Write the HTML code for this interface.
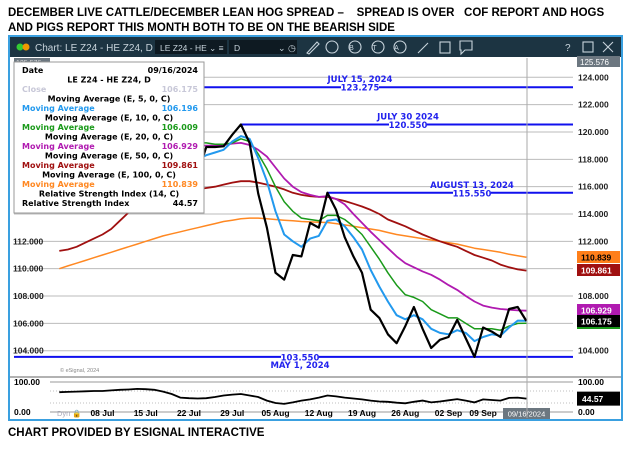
<!DOCTYPE html>
<html><head><meta charset="utf-8"><style>
body{margin:0;background:#fff;}
svg{display:block;font-family:"Liberation Sans",sans-serif;}
</style></head><body>
<svg id="c" width="633" height="450" viewBox="0 0 633 450">
<text x="8" y="16" font-size="11.5" font-weight="bold" style="white-space:pre">DECEMBER LIVE CATTLE/DECEMBER LEAN HOG SPREAD –    SPREAD IS OVER   COF REPORT AND HOGS</text>
<text x="8" y="31" font-size="11.5" font-weight="bold">AND PIGS REPORT THIS MONTH BOTH TO BE ON THE BEARISH SIDE</text>
<rect x="9" y="36" width="613" height="384" fill="#fff" stroke="#3aa0e0" stroke-width="2"/>
<rect x="10" y="37" width="611" height="20" fill="#1c3442"/>
<circle cx="20" cy="47" r="3.5" fill="#3c3"/>
<circle cx="26" cy="47" r="3.5" fill="#e90"/>
<text x="35" y="51" font-size="10" fill="#c8d4dc">Chart: LE Z24 - HE Z24, D</text>
<rect x="155" y="40" width="72" height="14" fill="#0e1a22"/>
<text x="160" y="51" font-size="8.5" fill="#c8d4dc">LE Z24 - HE ⌄ ≡</text>
<rect x="229" y="40" width="68" height="14" fill="#0e1a22"/>
<text x="234" y="51" font-size="8.5" fill="#c8d4dc">D</text>
<text x="278" y="51" font-size="9" fill="#c8d4dc">⌄ ◷</text>
<g fill="none" stroke="#c8d4dc" stroke-width="1.1">
<path d="M307 53 L317 42 L319 44 L309 54 Z"/>
<circle cx="332" cy="47" r="6"/>
<circle cx="355" cy="47" r="6"/>
<circle cx="378" cy="47" r="6"/>
<circle cx="400" cy="47" r="6"/>
<path d="M418 53 L428 43"/>
<rect x="440" y="42" width="10" height="11"/>
<path d="M460 41 H472 V50 H465 L461 54 V50 H460 Z"/>
<rect x="583" y="42" width="10" height="10"/>
<path d="M603 42 L613 52 M613 42 L603 52"/>
</g>
<text x="351.5" y="50" font-size="7" fill="#c8d4dc" text-anchor="middle">B</text>
<text x="374.5" y="50" font-size="7" fill="#c8d4dc" text-anchor="middle">T</text>
<text x="396.5" y="50" font-size="7" fill="#c8d4dc" text-anchor="middle">A</text>
<text x="565" y="51" font-size="10" fill="#c8d4dc">?</text>
<g id="grid"></g><g id="hlines"></g><g id="series"></g><g id="rsi"></g><g id="axes"></g>
<line x1="527" y1="58" x2="527" y2="418" stroke="#aaa" stroke-width="1"/>
<rect x="14" y="58" width="36" height="8" fill="#6c7780"/>
<text x="16" y="65" font-size="7" fill="#ddd">125.576</text>
<rect x="577" y="56" width="43" height="11" fill="#6c7780"/>
<text x="580" y="65" font-size="8" fill="#fff">125.576</text>
<g>
<rect x="14" y="62" width="190" height="151" fill="#fff" stroke="#999" stroke-width="1"/>
<g font-size="8" font-weight="bold" font-family="'DejaVu Sans',sans-serif">
<text x="22" y="73">Date</text><text x="198" y="73" text-anchor="end">09/16/2024</text>
<text x="109" y="82.5" text-anchor="middle">LE Z24 - HE Z24, D</text>
<text x="22" y="92" fill="#c8c8d8">Close</text><text x="198" y="92" text-anchor="end" fill="#c8c8d8">106.175</text>
<text x="109" y="101.5" text-anchor="middle">Moving Average (E, 5, 0, C)</text>
<text x="22" y="111" fill="#2299ee">Moving Average</text><text x="198" y="111" text-anchor="end" fill="#2299ee">106.196</text>
<text x="109" y="120.5" text-anchor="middle">Moving Average (E, 10, 0, C)</text>
<text x="22" y="130" fill="#1a9a1a">Moving Average</text><text x="198" y="130" text-anchor="end" fill="#1a9a1a">106.009</text>
<text x="109" y="139.5" text-anchor="middle">Moving Average (E, 20, 0, C)</text>
<text x="22" y="149" fill="#b01ab0">Moving Average</text><text x="198" y="149" text-anchor="end" fill="#b01ab0">106.929</text>
<text x="109" y="158.5" text-anchor="middle">Moving Average (E, 50, 0, C)</text>
<text x="22" y="168" fill="#a01010">Moving Average</text><text x="198" y="168" text-anchor="end" fill="#a01010">109.861</text>
<text x="109" y="177.5" text-anchor="middle">Moving Average (E, 100, 0, C)</text>
<text x="22" y="187" fill="#ff8822">Moving Average</text><text x="198" y="187" text-anchor="end" fill="#ff8822">110.839</text>
<text x="109" y="196.5" text-anchor="middle">Relative Strength Index (14, C)</text>
<text x="22" y="206">Relative Strength Index</text><text x="198" y="206" text-anchor="end">44.57</text>
</g></g>
<text x="60" y="372" font-size="5.5" fill="#888">© eSignal, 2024</text>
<text x="8" y="436" font-size="11.5" font-weight="bold">CHART PROVIDED BY ESIGNAL INTERACTIVE</text>
</svg>
<script>
const startIdx = 5;
const closeVals = [117.5,118.2,117.8,118.6,119.0,118.4,118.9,119.3,118.7,119.1,119.5,118.8,118.2,118.6,117.6,117.2,117.0,118.9,118.9,118.95,119.8,120.55,119.2,115.5,113.0,109.7,109.2,111.0,110.9,113.35,113.0,115.55,114.3,112.3,110.9,109.7,107.0,106.4,105.2,104.55,105.8,107.2,105.6,104.2,104.8,105.0,106.25,104.9,103.55,105.7,105.4,105.0,107.05,107.2,106.175];
const ema5Vals = [118.3,118.3,118.1,118.3,118.6,118.5,118.7,119.0,118.9,119.0,119.2,119.0,118.7,118.7,118.2,117.9,118.0,118.3,118.5,118.7,119.3,119.7,119.5,118.1,116.4,114.2,112.5,112.0,111.6,112.2,112.4,113.5,113.6,113.1,112.3,111.4,109.9,108.7,107.6,106.6,106.3,106.6,106.3,105.6,105.3,105.2,105.5,105.3,104.7,105.0,105.2,105.1,105.7,106.2,106.196];
const ema10Vals = [118.6,118.6,118.5,118.6,118.7,118.7,118.8,118.9,118.9,119.0,119.1,119.1,119.0,119.0,118.9,118.8,119.2,119.2,119.1,119.1,119.2,119.5,119.3,118.4,117.3,116.0,114.9,114.2,113.7,113.6,113.5,113.9,113.9,113.6,113.1,112.5,111.6,110.7,109.7,108.8,108.1,107.9,107.6,107.0,106.7,106.4,106.4,106.0,105.6,105.6,105.6,105.5,105.8,106.0,106.009];
const ema20Vals = [118.0,118.1,118.2,118.3,118.4,118.5,118.6,118.7,118.8,118.9,118.9,119.0,119.0,119.0,119.0,119.0,119.0,119.0,119.0,119.05,119.15,119.2,119.05,118.7,118.2,117.4,116.6,116.0,115.6,115.4,115.25,115.3,115.1,114.7,114.0,113.35,112.7,112.1,111.5,110.9,110.4,110.1,109.8,109.55,109.2,108.8,108.45,108.0,107.6,107.3,107.15,107.05,107.0,106.95,106.929];
const ema50Vals = [111.3,111.4,111.6,111.9,112.2,112.5,112.9,113.5,114.1,114.4,114.7,114.9,115.1,115.3,115.4,115.6,115.8,115.9,116.0,116.15,116.3,116.4,116.4,116.3,116.15,116.0,115.8,115.55,115.4,115.3,115.25,115.25,115.1,114.95,114.75,114.55,114.3,114.0,113.6,113.35,113.1,112.8,112.5,112.25,112.0,111.8,111.6,111.3,111.0,110.8,110.6,110.3,110.1,109.95,109.861];
const ema100Vals = [110.0,110.2,110.4,110.6,110.8,111.0,111.2,111.4,111.6,111.8,112.0,112.2,112.4,112.55,112.7,112.85,113.0,113.15,113.3,113.45,113.55,113.65,113.7,113.7,113.65,113.6,113.55,113.5,113.45,113.42,113.4,113.38,113.3,113.2,113.1,113.0,112.9,112.8,112.65,112.5,112.4,112.3,112.2,112.1,112.0,111.9,111.8,111.65,111.5,111.4,111.3,111.2,111.05,110.95,110.839];
const rsiVals = [66,67,68,69,70,70,72,74,75,77,76,74,68,60,48,46,45,46,50,55,58,60,55,50,38,30,27,32,38,42,48,55,52,48,45,42,38,35,34,31,29,34,38,32,35,39,43,38,32,42,40,38,47,48,44.57];
const priceTicks = [104,106,108,110,112,114,116,118,120,122,124];
const priceTickLabels = ["104.000","106.000","108.000","110.000","112.000","114.000","116.000","118.000","120.000","122.000","124.000"];
const dateLabels = ["08 Jul","15 Jul","22 Jul","29 Jul","05 Aug","12 Aug","19 Aug","26 Aug","02 Sep","09 Sep"];
const dateIdx = [10,15,20,25,30,35,40,45,50,54];
const levelVals = [123.275,120.55,115.55,103.55];
const levelStart = [0,26,36,0];
const levelTitles = ["JULY 15, 2024","JULY 30  2024","AUGUST 13, 2024","MAY 1, 2024"];
const levelLabels = ["123.275","120.550","115.550","103.550"];

const NS="http://www.w3.org/2000/svg";
const x = i => 16 + i*8.65;
const y = v => 77.3 + (124 - v)*13.67;
const ry = v => 382 + (100 - v)*0.3;
const PL=14, PR=573;
function mk(tag, attrs, parent, text){const e=document.createElementNS(NS,tag);for(const k in attrs)e.setAttribute(k,attrs[k]);if(text!==undefined)e.textContent=text;document.getElementById(parent).appendChild(e);return e;}

priceTicks.forEach((v,k)=>{
  const g=mk('line',{x1:PL,x2:PR,y1:y(v),y2:y(v),stroke:'#bbb','stroke-width':1},'grid');
  
  
  const t=mk('text',{x:578,y:y(v)+3,'font-size':8.5,'font-weight':'bold',fill:'#222'},'axes',priceTickLabels[k]);
  
  
  if(v<=112){const t2=mk('text',{x:13,y:y(v)+3,'font-size':8.5,'font-weight':'bold',fill:'#222'},'axes',priceTickLabels[k]);
  
  }
});
levelVals.forEach((v,k)=>{
  const l=mk('line',{x1:(levelStart[k]===0?PL:x(levelStart[k])),x2:PR,y1:y(v),y2:y(v),stroke:'#1010ee','stroke-width':2},'hlines');
  
  
});
const lblX=[360,408,472,300];
levelVals.forEach((v,k)=>{
  const below = k===3;
  const tt=mk('text',{x:lblX[k],y:below?y(v)+11:y(v)-5,'font-size':8.5,'font-weight':'bold',fill:'#2222ee','text-anchor':'middle','font-family':"'DejaVu Sans',sans-serif"},'hlines',levelTitles[k]);
  
  
  const bg=mk('rect',{x:lblX[k]-19,y:y(v)-4,width:38,height:8,fill:'#fff'},'hlines');
  
  
  const tv=mk('text',{x:lblX[k],y:y(v)+3.5,'font-size':8.5,'font-weight':'bold',fill:'#2222ee','text-anchor':'middle','font-family':"'DejaVu Sans',sans-serif"},'hlines',levelLabels[k]);
  
  
});
function pts(arr,fy){return arr.map((v,k)=>x(startIdx+k).toFixed(1)+','+fy(v).toFixed(1)).join(' ');}
const series=[[ema100Vals,'#ff8822',1.5,'ema-100-line'],[ema50Vals,'#a01010',1.8,'ema-50-line'],[ema20Vals,'#b01ab0',1.8,'ema-20-line'],[ema10Vals,'#1a9a1a',1.5,'ema-10-line'],[ema5Vals,'#2299ee',2,'ema-5-line'],[closeVals,'#000',2.2,'close-line']];
series.forEach(s=>{
  const p=mk('polyline',{points:pts(s[0],y),fill:'none',stroke:s[1],'stroke-width':s[2],'stroke-linejoin':'round'},'series');
  
  
});
const tags=[[ema100Vals,'#ff7f1a','#000'],[ema50Vals,'#a01010','#fff'],[ema20Vals,'#b01ab0','#fff'],[closeVals,'#000','#fff']];
const tagY=[257,270,310,321];
tags.forEach((t,k)=>{
  const v=t[0][t[0].length-1];
  if(k===3){const gr=mk('rect',{x:577,y:tagY[k]-6,width:43,height:14,fill:'#1a9a1a'},'axes');
  
  }
  const r=mk('rect',{x:577,y:tagY[k]-6,width:43,height:12,fill:t[1]},'axes');
  
  
  const tx=mk('text',{x:581,y:tagY[k]+3.5,'font-size':8.5,'font-weight':'bold',fill:t[2]},'axes',v.toFixed(3));
  
  
});
const sep=mk('line',{x1:10,x2:621,y1:377,y2:377,stroke:'#666','stroke-width':1},'rsi');


[100,0].forEach(v=>{
  const l=mk('line',{x1:50,x2:PR,y1:ry(v),y2:ry(v),stroke:'#999','stroke-width':1},'rsi');
  
  
  const a=mk('text',{x:14,y:ry(v)+3,'font-size':8.5,'font-weight':'bold'},'rsi',v.toFixed(2));
  
  
  const b=mk('text',{x:578,y:ry(v)+3,'font-size':8.5,'font-weight':'bold'},'rsi',v.toFixed(2));
  
  
});
[70,30].forEach(v=>{
  const l=mk('line',{x1:50,x2:PR,y1:ry(v),y2:ry(v),stroke:'#aaa','stroke-width':0.8,'stroke-dasharray':'1,2'},'rsi');
  
  
});
const rp=mk('polyline',{points:pts(rsiVals,ry),fill:'none',stroke:'#000','stroke-width':1.8},'rsi');


const rt=mk('rect',{x:577,y:ry(rsiVals[rsiVals.length-1])-7,width:43,height:14,fill:'#000'},'rsi');


const rtt=mk('text',{x:582,y:ry(rsiVals[rsiVals.length-1])+3.5,'font-size':8.5,'font-weight':'bold',fill:'#fff'},'rsi',rsiVals[rsiVals.length-1].toFixed(2));


const dyn=mk('text',{x:57,y:416,'font-size':7.5,fill:'#aab'},'axes','Dyn 🔒');


dateLabels.forEach((d,k)=>{
  const t=mk('text',{x:x(dateIdx[k]),y:416,'font-size':8.5,'font-weight':'bold','text-anchor':'middle'},'axes',d);
  
  
});
const cr=mk('rect',{x:503,y:408,width:47,height:11,fill:'#6c7780'},'axes');


const ct=mk('text',{x:526.5,y:416.5,'font-size':7.5,fill:'#fff','text-anchor':'middle'},'axes','09/16/2024');


</script>
</body></html>
